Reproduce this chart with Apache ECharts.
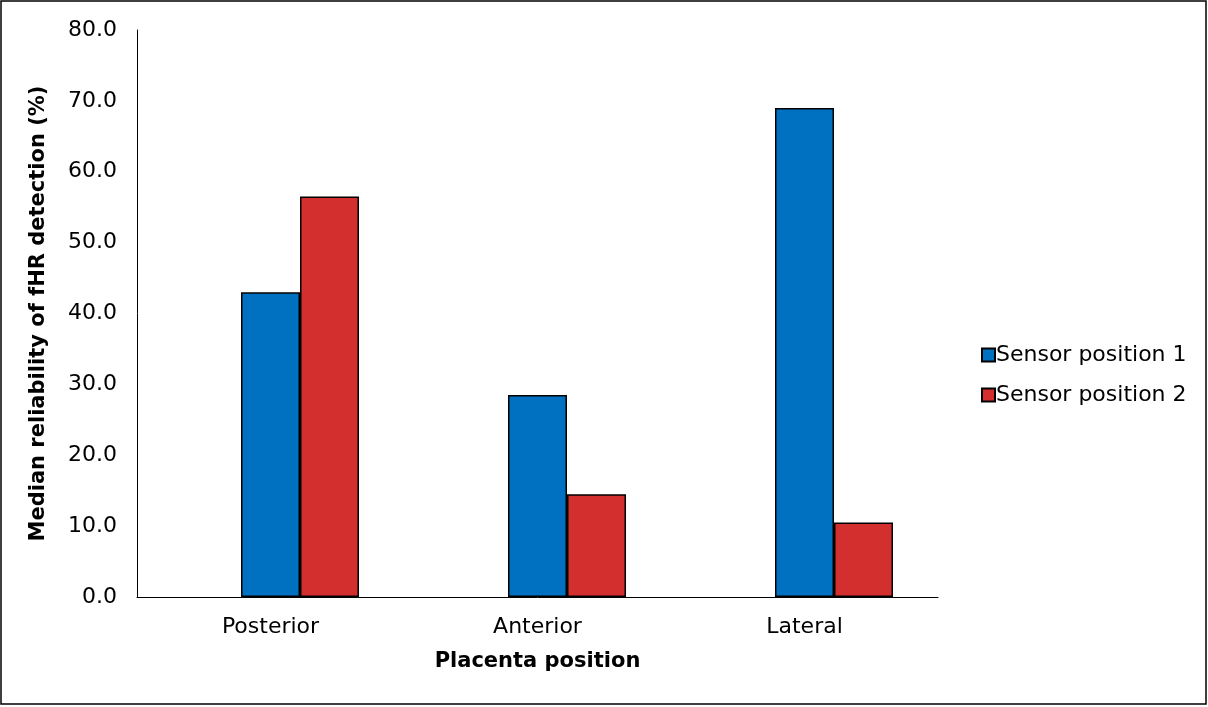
<!DOCTYPE html>
<html>
<head>
<meta charset="utf-8">
<script src="https://cdn.jsdelivr.net/npm/echarts@6/dist/echarts.min.js"></script>
<style>
  html, body { margin: 0; padding: 0; background: #fff; }
  #chart { width: 1208px; height: 707px; }
</style>
</head>
<body>
<div id="chart"></div>
<script>
// Placenta position categories and median reliability values (%)
const categories = ['Posterior', 'Anterior', 'Lateral'];
const sensor1 = [43.0, 28.5, 69.0];
const sensor2 = [56.5, 14.5, 10.5];
const seriesNames = ['Sensor position 1', 'Sensor position 2'];
const yTicks = { min: 0, max: 80, interval: 10 };

const FONT = 'DejaVu Sans';
const chart = echarts.init(document.getElementById('chart'), null, { renderer: 'canvas' });

const barStyle = (color) => ({ color: color, borderColor: '#000', borderWidth: 1.5 });

chart.setOption({
  animation: false,
  backgroundColor: '#fff',
  textStyle: { fontFamily: FONT, color: '#000' },
  graphic: [{
    type: 'rect',
    shape: { x: 1, y: 1, width: 1205, height: 703 },
    style: { fill: 'none', stroke: '#000', lineWidth: 1.5 },
    silent: true
  }],
  grid: { left: 137, right: 270, top: 30, bottom: 110, containLabel: false },
  legend: {
    orient: 'vertical',
    left: 976,
    top: 339,
    itemWidth: 13,
    itemHeight: 13,
    itemGap: 18,
    icon: 'rect',
    data: seriesNames,
    textStyle: { fontFamily: FONT, fontSize: 22, color: '#000', padding: [0, 0, 0, -4] }
  },
  xAxis: {
    type: 'category',
    data: categories,
    name: 'Placenta position',
    nameLocation: 'middle',
    nameGap: 54,
    nameTextStyle: { fontFamily: FONT, fontSize: 21, fontWeight: 'bold', color: '#000' },
    axisLine: { lineStyle: { color: '#000', width: 1 } },
    axisTick: { show: false },
    axisLabel: { fontFamily: FONT, fontSize: 22, color: '#000', margin: 19 }
  },
  yAxis: {
    type: 'value',
    min: yTicks.min,
    max: yTicks.max,
    interval: yTicks.interval,
    name: 'Median reliability of fHR detection (%)',
    nameLocation: 'middle',
    nameGap: 88,
    nameTextStyle: { fontFamily: FONT, fontSize: 21, fontWeight: 'bold', color: '#000' },
    axisLine: { show: true, lineStyle: { color: '#000', width: 1 } },
    axisTick: { show: false },
    splitLine: { show: false },
    axisLabel: {
      fontFamily: FONT, fontSize: 22, color: '#000', margin: 20,
      formatter: (v) => v.toFixed(1)
    }
  },
  series: [
    // empty leading slot keeps the bar pair offset within each category
    { type: 'bar', name: '_slot', data: categories.map(() => null), barGap: '0%', barCategoryGap: '33.7%' },
    { type: 'bar', name: seriesNames[0], data: sensor1, barGap: '0%', barCategoryGap: '33.7%', itemStyle: barStyle('#0070C0') },
    { type: 'bar', name: seriesNames[1], data: sensor2, barGap: '0%', barCategoryGap: '33.7%', itemStyle: barStyle('#D32F2F') }
  ]
});
</script>
</body>
</html>
